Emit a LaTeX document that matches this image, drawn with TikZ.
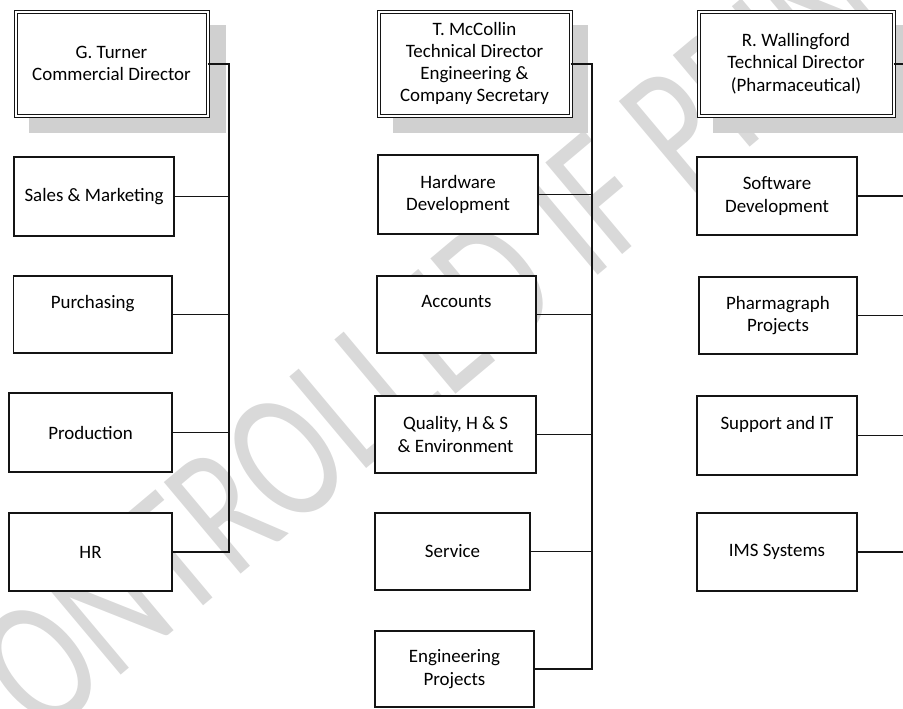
\documentclass[tikz,border=0pt]{standalone}
\usepackage{fontspec}
\setmainfont{Carlito}
\usetikzlibrary{calc}
\pgfdeclarelayer{bg}
\pgfsetlayers{bg,main}
\definecolor{wm}{RGB}{217,217,217}
\definecolor{shd}{RGB}{208,208,208}
\definecolor{ln}{RGB}{20,20,20}
\newcommand{\boxfont}{\fontsize{14.2}{16.7}\selectfont}
\tikzset{
  unit/.style={draw=ln, line width=0.8pt, fill=white, align=center, inner sep=0pt, outer sep=0pt, font=\boxfont},
  head/.style={unit, double, double distance=1.5pt, line width=0.75pt},
  trunk/.style={draw=ln, line width=1.5pt},
  branch/.style={draw=ln, line width=1.1pt},
  shadowbox/.style={fill=shd},
}
\begin{document}
\begin{tikzpicture}[x=0.75pt,y=-0.75pt]
\useasboundingbox (0,0) rectangle (903,708);
% column 1
\node[head, minimum width=144pt, minimum height=78pt] (tu) at (111.5,63.5) {G. Turner\\Commercial Director};
\node[unit, minimum width=120pt, minimum height=59.25pt] (sales) at (94,196.5) {Sales \& Marketing};
\node[unit, minimum width=118.9pt, minimum height=57.75pt] (purch) at (92.75,314.5) {Purchasing\\\phantom{Pg}};
\node[unit, minimum width=122.25pt, minimum height=59.25pt] (prod) at (90.5,432.5) {Production};
\node[unit, minimum width=122.25pt, minimum height=58.5pt] (hr) at (90.5,552) {HR};
% column 2
\node[head, minimum width=144pt, minimum height=78pt] (mc) at (474.5,63.5) {T. McCollin\\Technical Director\\Engineering \&\\Company Secretary};
\node[unit, minimum width=120pt, minimum height=59.25pt] (hw) at (458,194.5) {Hardware\\Development};
\node[unit, minimum width=119.25pt, minimum height=57.75pt] (acc) at (456.5,314.5) {Accounts\\\phantom{Pg}};
\node[unit, minimum width=120.75pt, minimum height=57.75pt] (qual) at (455.5,434.5) {Quality, H \& S\\\& Environment};
\node[unit, minimum width=116.25pt, minimum height=57.75pt] (serv) at (452.5,551.5) {Service};
\node[unit, minimum width=119.25pt, minimum height=57pt] (eng) at (454.5,669) {Engineering\\Projects};
% column 3
\node[head, minimum width=146.25pt, minimum height=78pt] (wa) at (796,63.5) {R. Wallingford\\Technical Director\\(Pharmaceutical)};
\node[unit, minimum width=120pt, minimum height=58.5pt] (sw) at (777,196) {Software\\Development};
\node[unit, minimum width=118.5pt, minimum height=57.75pt] (ph) at (778,315.5) {Pharmagraph\\Projects};
\node[unit, minimum width=120pt, minimum height=59.25pt] (sup) at (777,435.5) {Support and IT\\\phantom{Pg}};
\node[unit, minimum width=120pt, minimum height=58.5pt] (ims) at (777,552) {IMS Systems};
% background: watermark and shadows
\begin{pgfonlayer}{bg}
\node[anchor=base west, rotate=40, text=wm, inner sep=0pt, font=\fontsize{103.5}{105}\selectfont] (wmk) at (-148,901) {\scalebox{1}[1.35]{UNCONTROLLED IF PRINTED}};
\fill[shadowbox] ($(tu.north west)+(13.5,13.5)$) rectangle ($(tu.south east)+(18.5,17.5)$);
\fill[shadowbox] ($(mc.north west)+(14.5,13.5)$) rectangle ($(mc.south east)+(17.5,17.5)$);
\fill[shadowbox] ($(wa.north west)+(14.5,13.5)$) rectangle ($(wa.south east)+(17.5,17.5)$);
\end{pgfonlayer}
% connectors
\coordinate (t1) at (229,0);
\coordinate (t2) at (592,0);
\coordinate (edge) at (903,0);
\draw[trunk] (tu.east) -- (tu.east -| t1) |- (hr.east);
\foreach \n in {sales,purch,prod} \draw[branch] (\n.east) -- (\n.east -| t1);
\draw[trunk] (mc.east) -- (mc.east -| t2) |- (eng.east);
\foreach \n in {hw,acc,qual,serv} \draw[branch] (\n.east) -- (\n.east -| t2);
\draw[trunk] (wa.east) -- (wa.east -| edge);
\foreach \n in {sw,ph,sup,ims} \draw[branch] (\n.east) -- (\n.east -| edge);
\end{tikzpicture}
\end{document}
